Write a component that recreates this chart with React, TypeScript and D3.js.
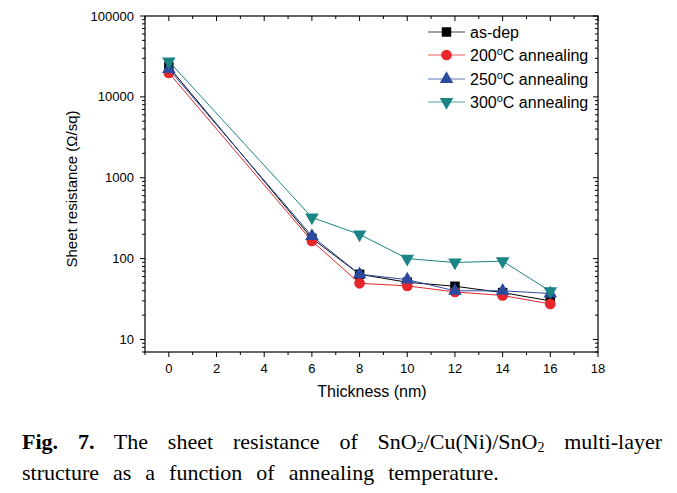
import React from 'react';
import * as d3 from 'd3';

const thickness = [0, 6, 8, 10, 12, 14, 16];
const asDep = [23500, 178, 64, 51, 45.5, 38, 30];
const ann200 = [19800, 165, 49.5, 46, 38.7, 35, 27.5];
const ann250 = [22000, 190, 64, 55, 40, 40, 37];
const ann300 = [27500, 323, 199, 100, 89.5, 93, 39.5];
const seriesLabels = ['as-dep', '200', '250', '300'];
const xTicks = [0, 2, 4, 6, 8, 10, 12, 14, 16, 18];
const yTicks = [10, 100, 1000, 10000, 100000];

const W = 677;
const H = 493;
const L = 145, R = 598, T = 16, B = 352;

const series = [
  { name: seriesLabels[0], values: asDep, color: '#000000', shape: 'square' },
  { name: seriesLabels[1], values: ann200, color: '#e8262b', shape: 'circle' },
  { name: seriesLabels[2], values: ann250, color: '#2c4b9e', shape: 'triangle' },
  { name: seriesLabels[3], values: ann300, color: '#1b8585', shape: 'down' },
];

const font = '"Liberation Sans", Arial, sans-serif';

function symbolPath(shape: string) {
  if (shape === 'square') return d3.symbol(d3.symbolSquare, 90)()!;
  if (shape === 'circle') return d3.symbol(d3.symbolCircle, 90)()!;
  return d3.symbol(d3.symbolTriangle, 80)()!;
}

export default function App() {
  const x = d3.scaleLinear().domain([-1, 18]).range([L, R]);
  const y = d3.scaleLog().domain([7, 100000]).range([B, T]);
  const xMinor = d3.range(-1, 18, 1).filter((v) => v % 2 !== 0);
  const yMinor: number[] = [];
  for (let e = 0; e < 5; e++) {
    for (let m = 2; m <= 9; m++) {
      const v = m * Math.pow(10, e);
      if (v >= 7 && v <= 100000) yMinor.push(v);
    }
  }
  const line = d3
    .line<number>()
    .x((_, i) => x(thickness[i]))
    .y((d) => y(d));

  const legendX = 428;
  const legendY = [32, 55, 79, 102];

  const label = (name: string) =>
    name === 'as-dep' ? (
      <tspan>as-dep</tspan>
    ) : (
      <>
        <tspan>{name}</tspan>
        <tspan dy={-6} fontSize={11}>o</tspan>
        <tspan dy={6}>C annealing</tspan>
      </>
    );

  const subStyle = { fontSize: 14, verticalAlign: '-3px', lineHeight: 0 } as const;

  return (
    <div style={{ position: 'fixed', left: 0, top: 0, width: W, height: H, background: '#fff' }}>
      <svg width={W} height={H} style={{ position: 'absolute', left: 0, top: 0 }}>
        <rect x={0} y={0} width={W} height={H} fill="#fff" />
        <rect x={L} y={T} width={R - L} height={B - T} fill="none" stroke="#000" strokeWidth={1.2} />
        {xTicks.map((t) => (
          <g key={'xt' + t}>
            <line x1={x(t)} x2={x(t)} y1={B} y2={B + 5} stroke="#000" />
            <line x1={x(t)} x2={x(t)} y1={T} y2={T + 5} stroke="#000" />
            <text x={x(t)} y={B + 21} textAnchor="middle" fontFamily={font} fontSize={13}>
              {t}
            </text>
          </g>
        ))}
        {xMinor.map((t) => (
          <g key={'xm' + t}>
            <line x1={x(t)} x2={x(t)} y1={B} y2={B + 3} stroke="#000" />
            <line x1={x(t)} x2={x(t)} y1={T} y2={T + 3} stroke="#000" />
          </g>
        ))}
        {yTicks.map((t) => (
          <g key={'yt' + t}>
            <line x1={L - 5} x2={L} y1={y(t)} y2={y(t)} stroke="#000" />
            <line x1={R - 5} x2={R} y1={y(t)} y2={y(t)} stroke="#000" />
            <text x={L - 11} y={y(t) + 4.5} textAnchor="end" fontFamily={font} fontSize={13}>
              {t}
            </text>
          </g>
        ))}
        {yMinor.map((t) => (
          <g key={'ym' + t}>
            <line x1={L - 3} x2={L} y1={y(t)} y2={y(t)} stroke="#000" />
            <line x1={R - 3} x2={R} y1={y(t)} y2={y(t)} stroke="#000" />
          </g>
        ))}
        <text x={372} y={397} textAnchor="middle" fontFamily={font} fontSize={16}>
          Thickness (nm)
        </text>
        <text
          transform={`translate(77, ${(T + B) / 2 + 5}) rotate(-90)`}
          textAnchor="middle"
          fontFamily={font}
          fontSize={15}
        >
          Sheet resistance (Ω/sq)
        </text>
        {series.map((s) => (
          <g key={s.name}>
            <path d={line(s.values)!} fill="none" stroke={s.color} strokeWidth={1} />
            {s.values.map((v, i) => (
              <path
                key={i}
                d={symbolPath(s.shape)}
                transform={`translate(${x(thickness[i])},${y(v)})${s.shape === 'down' ? ' rotate(180)' : ''}`}
                fill={s.color}
              />
            ))}
          </g>
        ))}
        {series.map((s, i) => (
          <g key={'lg' + s.name}>
            <line x1={legendX} x2={legendX + 37} y1={legendY[i]} y2={legendY[i]} stroke={s.color} strokeWidth={1} opacity={0.75} />
            <path
              d={symbolPath(s.shape)}
              transform={`translate(${legendX + 18.5},${legendY[i]})${s.shape === 'down' ? ' rotate(180)' : ''}`}
              fill={s.color}
            />
            <text x={legendX + 42} y={legendY[i] + 6} fontFamily={font} fontSize={16}>
              {label(s.name)}
            </text>
          </g>
        ))}
      </svg>
      <div
        style={{
          position: 'absolute',
          left: 22,
          width: 640,
          top: 426,
          fontFamily: '"Liberation Serif", "Times New Roman", serif',
          fontSize: 22,
          lineHeight: '31px',
          color: '#000',
        }}
      >
        <div style={{ textAlign: 'justify', textAlignLast: 'justify', whiteSpace: 'nowrap' as any }}>
          <b>Fig. 7.</b> The sheet resistance of SnO<sub style={subStyle}>2</sub>/Cu(Ni)/SnO
          <sub style={subStyle}>2</sub> multi-layer
        </div>
        <div style={{ wordSpacing: 8.5 }}>structure as a function of annealing temperature.</div>
      </div>
    </div>
  );
}
